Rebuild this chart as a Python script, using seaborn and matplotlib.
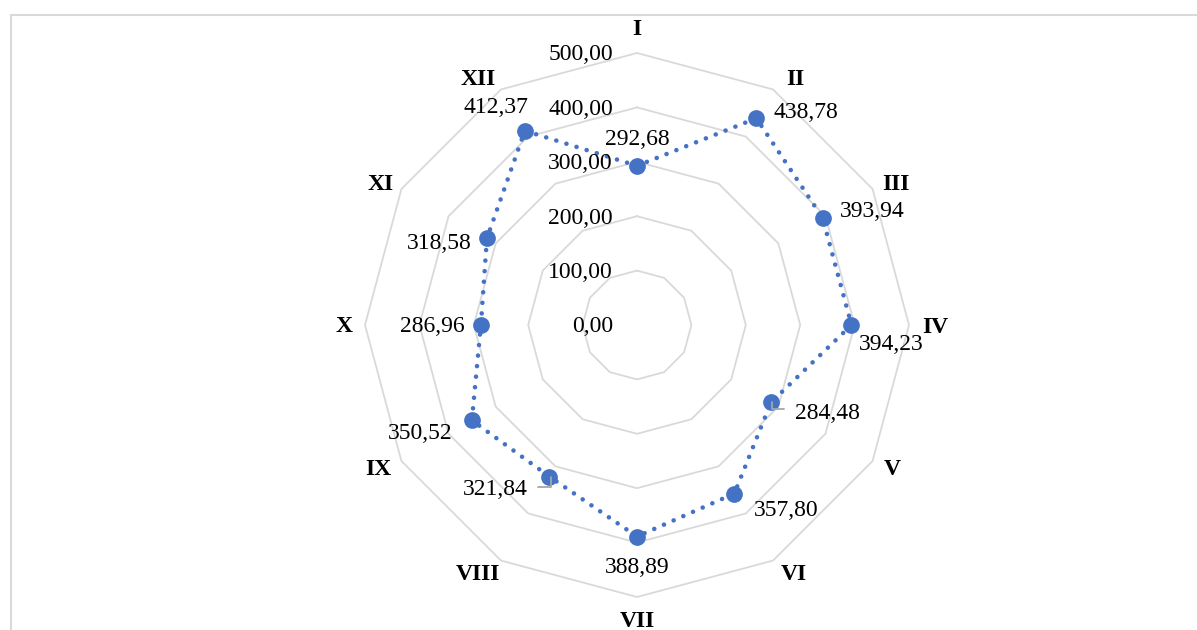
import numpy as np
import pandas as pd
import seaborn as sns
import matplotlib.pyplot as plt
from matplotlib.patches import Rectangle

# data
categories = ['I', 'II', 'III', 'IV', 'V', 'VI', 'VII', 'VIII', 'IX', 'X', 'XI', 'XII']
values = [292.68, 438.78, 393.94, 394.23, 284.48, 357.80, 388.89, 321.84, 350.52, 286.96, 318.58, 412.37]
ring_values = [100, 200, 300, 400, 500]
axis_labels = ['0,00', '100,00', '200,00', '300,00', '400,00', '500,00']

# label placement (pixels from point, text centre)
label_offsets = [(0, 26), (50, 6), (50, 6), (40, -20), (56, -11), (52, -17),
                 (0, -31), (-54, -13), (-52, -13), (-49, -2), (-48, -5), (-29, 23)]
cat_nudge = [(0, -1), (10, -11), (2, -8), (2, -3), (-2, 4), (9, 7),
             (0, 0), (-11, 7), (-2, 4), (4, -2), (0, -8), (-11, -11)]
leaders = {4: [(1, 0), (1, -7), (13, -7)], 7: [(2, 0), (2, -10), (-11, -10)]}

BLUE = '#4472C4'
GRID = '#D9D9D9'
W, H = 1197, 630
CX, CY = 637, 325
k = 272 / 500  # pixels per unit

sns.set_style('white')
plt.rcParams['font.family'] = ['Liberation Serif', 'DejaVu Serif']
plt.rcParams['text.color'] = 'black'
fs = 17

fig = plt.figure(figsize=(W / 100, H / 100), dpi=100)
ax = fig.add_axes([0, 0, 1, 1])
ax.set_xlim(-CX / k, (W - CX) / k)
ax.set_ylim(-(H - CY) / k, CY / k)
ax.axis('off')

n = len(categories)
theta = np.arange(n) * 2 * np.pi / n

# grid polygons
for rv in ring_values:
    tt = np.append(theta, theta[0])
    ax.plot(rv * np.sin(tt), rv * np.cos(tt), color=GRID, lw=1.3, zorder=1)

# radial axis labels
for i, lab in enumerate(axis_labels):
    ax.text(-24 / k, i * 100 - 2 / k, lab, ha='right', va='center', fontsize=fs, zorder=5)

df = pd.DataFrame({'cat': categories, 'value': values, 'theta': theta})
df['x'] = df['value'] * np.sin(df['theta'])
df['y'] = df['value'] * np.cos(df['theta'])
closed = pd.concat([df, df.iloc[[0]]], ignore_index=True)

sns.lineplot(data=closed, x='x', y='y', sort=False, estimator=None, color=BLUE,
             lw=3.3, ax=ax, zorder=3)
ln = ax.lines[-1]
ln.set_linestyle((0, (0.01, 2.3)))
ln.set_dash_capstyle('round')
sns.scatterplot(data=df, x='x', y='y', color=BLUE, s=145, edgecolor=BLUE, linewidth=0,
                ax=ax, zorder=4)

# data labels
for i, row in df.iterrows():
    dx, dy = label_offsets[i]
    ax.text(row['x'] + dx / k, row['y'] + dy / k, f"{row['value']:.2f}".replace('.', ','),
            ha='center', va='center', fontsize=fs, zorder=6)
    if i in leaders:
        pts = leaders[i]
        ax.plot([row['x'] + p[0] / k for p in pts], [row['y'] + p[1] / k for p in pts],
                color='#A6A6A6', lw=1.3, zorder=5)

# category labels
for cat, t, (nx, ny) in zip(categories, theta, cat_nudge):
    ax.text(545 * np.sin(t) + nx / k, 545 * np.cos(t) + ny / k, cat, ha='center', va='center',
            fontsize=fs, fontweight='bold', zorder=6)

# chart frame
fig.patches.append(Rectangle((11 / W, -0.1), 1.2, 1.1 - 15 / H, transform=fig.transFigure,
                             fill=False, edgecolor=GRID, lw=1.5))

fig.savefig('out.png', dpi=100)
